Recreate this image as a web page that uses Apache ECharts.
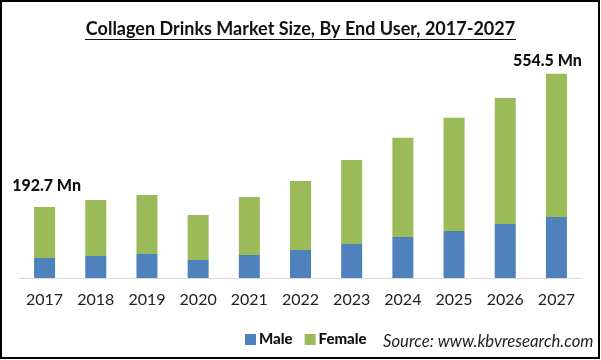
<!DOCTYPE html>
<html><head><meta charset="utf-8">
<script src="https://cdn.jsdelivr.net/npm/echarts@6/dist/echarts.min.js"></script>
<style>html,body{margin:0;padding:0;background:#fff}#c{width:601px;height:360px}</style>
</head><body><div id="c"></div>
<script>
var years = ['2017','2018','2019','2020','2021','2022','2023','2024','2025','2026','2027'];
var male = [54.4, 59.8, 65.2, 48.9, 62.5, 76.0, 92.4, 111.4, 127.7, 146.8, 165.8];
var female = [138.3, 152.2, 160.4, 122.1, 157.5, 187.6, 228.3, 269.1, 307.2, 342.2, 388.7];
var totalLabels = {0: '192.7 Mn', 10: '554.5 Mn'};

var chart = echarts.init(document.getElementById('c'), null, {renderer: 'canvas'});
var femaleData = female.map(function (v, i) {
  var item = {value: v};
  if (totalLabels[i]) {
    item.label = {
      show: true, position: 'top',
      formatter: totalLabels[i],
      offset: i === 0 ? [2, -8] : [-9, 0],
      fontFamily: 'Lato', fontWeight: 900, fontSize: 16, color: '#111'
    };
  }
  return item;
});
chart.setOption({
  animation: false,
  backgroundColor: '#fff',
  title: {
    text: 'Collagen Drinks Market Size, By End User, 2017-2027',
    left: 'center', top: 15,
    textStyle: {fontFamily: 'Lato', fontWeight: 'bold', fontSize: 18, color: '#111'}
  },
  graphic: [
    {type: 'line', shape: {x1: 85, y1: 39.5, x2: 516, y2: 39.5}, style: {stroke: '#111', lineWidth: 1}},
    {type: 'rect', shape: {x: 1, y: 1, width: 598, height: 357}, style: {fill: 'none', stroke: '#000', lineWidth: 2}},
    {type: 'text', left: 383, top: 333, style: {text: 'Source: www.kbvresearch.com', fontFamily: 'Lato', fontStyle: 'italic', fontSize: 16.7, fill: '#222'}}
  ],
  legend: {
    data: ['Male', 'Female'],
    left: 240, top: 327,
    itemWidth: 11, itemHeight: 11, itemGap: 12,
    icon: 'rect',
    textStyle: {fontFamily: 'Lato', fontWeight: 900, fontSize: 15, color: '#111', padding: [0, 0, 0, -2]}
  },
  grid: {left: 19, right: 19, top: 57, bottom: 82},
  xAxis: {
    type: 'category', data: years,
    axisLine: {lineStyle: {color: '#d9d9d9', width: 1}},
    axisTick: {show: false},
    axisLabel: {fontFamily: 'Lato', fontSize: 16, color: '#222', margin: 14}
  },
  yAxis: {
    type: 'value', min: 0, max: 600, show: false,
    splitLine: {show: false}
  },
  series: [
    {name: 'Male', type: 'bar', stack: 't', data: male, barWidth: 21, itemStyle: {color: '#4f81bd'}},
    {name: 'Female', type: 'bar', stack: 't', data: femaleData, barWidth: 21, itemStyle: {color: '#9bbb59'}}
  ]
});
</script></body></html>
